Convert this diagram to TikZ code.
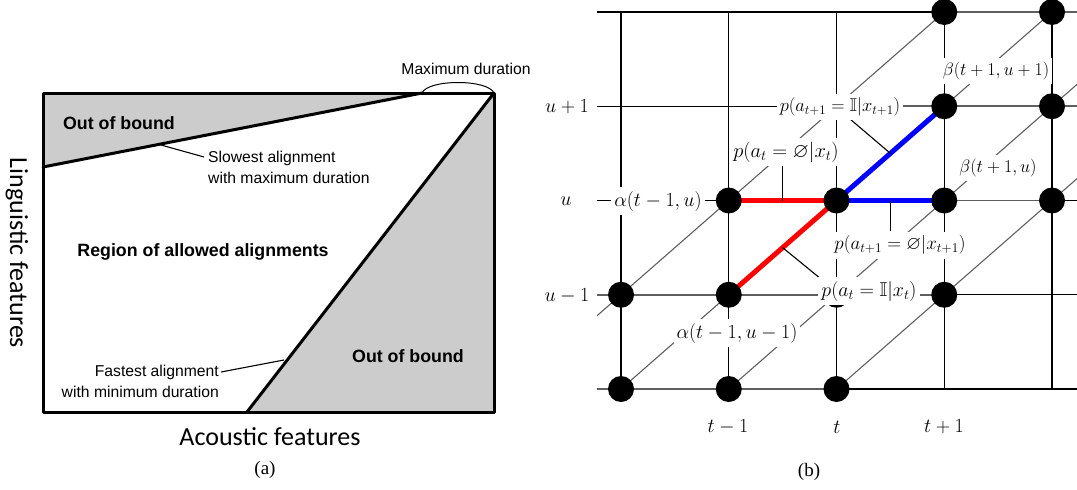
\RequirePackage{fix-cm}
\documentclass[tikz,border=0pt]{standalone}
\usepackage{amssymb}
\usepackage{fontspec}
\setmainfont{Liberation Serif}
\newfontfamily\arialf{Liberation Sans}
\newfontfamily\calf{Carlito}
\usetikzlibrary{calc}
\definecolor{oobgray}{RGB}{204,204,204}
\definecolor{edgegray}{RGB}{95,95,95}
\tikzset{
  thickline/.style={line width=3pt, line cap=round, line join=round},
  thinlead/.style={line width=1.1pt},
  small/.style={font=\arialf\fontsize{15.7}{21}\selectfont, inner sep=0pt},
  boldlab/.style={font=\arialf\bfseries\fontsize{17.8}{21}\selectfont, inner sep=0pt},
  axislab/.style={font=\calf\fontsize{26}{30}\selectfont, inner sep=0pt},
  caplab/.style={font=\fontsize{19}{22}\selectfont, inner sep=0pt},
  gridline/.style={line width=1.3pt, black},
  grayedge/.style={line width=1.6pt, edgegray},
  diagline/.style={line width=1.1pt, edgegray},
  lattnode/.style={circle, fill=black, minimum size=26pt, inner sep=0pt},
  mlab/.style={fill=white, inner xsep=3pt, inner ysep=4pt},
  redpath/.style={line width=5pt, red},
  bluepath/.style={line width=5pt, blue},
}
\begin{document}
\begin{tikzpicture}[x=1pt,y=-1pt]
\useasboundingbox (0,0) rectangle (1077,490);
% ================= Panel (a) =================
\coordinate (tl) at (43,93);
\coordinate (tr) at (494,93);
\coordinate (br) at (494,412);
\coordinate (bl) at (43,412);
\coordinate (s1) at (43,167);
\coordinate (s2) at (422,93);
\coordinate (f1) at (247,412);
\fill[oobgray] (tl) -- (s2) -- (s1) -- cycle;
\fill[oobgray] (f1) -- (tr) -- (br) -- cycle;
\draw[thickline] (tl) rectangle (br);
\draw[thickline] (s1) -- (s2);
\draw[thickline] (f1) -- (tr);
% maximum duration brace
\draw[line width=1pt] (s2) .. controls (428,79) and (488,79) .. (tr);
\node[small] (maxdur) at (466,69) {Maximum duration};
\node[boldlab] (oob1) at (119,123) {Out of bound};
\node[boldlab] (oob2) at (408,356) {Out of bound};
\node[boldlab] (region) at (203,252) {Region of allowed alignments};
\node[small, anchor=west, align=left] (slow) at (208,167) {Slowest alignment\\with maximum duration};
\node[small, anchor=east, align=right] (fast) at (219,381) {Fastest alignment\\with minimum duration};
\coordinate (slowpt) at (161,145);
\coordinate (fastpt) at (284,360);
\draw[thinlead] (slowpt) -- (204,157);
\draw[thinlead] (221,372) -- (fastpt);
\node[axislab, rotate=-90] (ling) at (17,253) {Linguistic features};
\node[axislab] (acou) at (270,437) {Acoustic features};
\node[caplab] (capa) at (265,470) {(a)};
% ================= Panel (b) =================
\foreach \i in {0,...,4}{
  \foreach \j in {0,...,4}{
    \coordinate (g\i\j) at ({621+107.75*\i},{389-94.25*\j});
  }
}
\foreach \j in {0,...,4}{
  \coordinate (L\j) at (597,{389-94.25*\j});
  \coordinate (R\j) at (1077,{389-94.25*\j});
}
% black grid
\foreach \i in {0,...,4}{ \draw[gridline] (g\i0) -- (g\i4); }
\foreach \j in {0,...,4}{ \draw[gridline] (L\j) -- (R\j); }
% gray horizontal transitions
\draw[grayedge] (L0) -- (g20);
\draw[grayedge] (L1) -- (g31);
\draw[grayedge] (g32) -- (g42);
\draw[grayedge] (g23) -- (R3);
\draw[grayedge] (g34) -- (R4);
% diagonals
\begin{scope}
\clip (597,11) rectangle (1077,390);
\foreach \k in {-1,0,1,2}{
  \draw[diagline] ({621+107.75*(\k-1)},{389+94.25}) -- ({621+107.75*(\k+5)},{389-94.25*5});
}
\end{scope}
% red and blue paths
\draw[redpath] (g12) -- (g22);
\draw[redpath] (g11) -- (g22);
\draw[bluepath] (g22) -- (g33);
\draw[bluepath] (g22) -- (g32);
% leaders
\draw[thinlead] ($(g12)!0.5!(g22)$) -- ++(0,-37);
\draw[thinlead] ($(g22)!0.5!(g33)$) -- (850,119);
\draw[thinlead] ($(g22)!0.5!(g32)$) -- ++(0,30);
\draw[thinlead] ($(g11)!0.5!(g22)$) -- (821,279);
% lattice nodes
\foreach \n in {g00,g10,g20,g01,g11,g21,g31,g12,g22,g32,g42,g33,g43,g34,g44}{
  \node[lattnode] (n\n) at (\n) {};
}
% labels
\node[mlab, font=\fontsize{20}{22}\selectfont] (alu) at (658,201) {$\alpha(t-1,u)$};
\node[mlab, font=\fontsize{20}{22}\selectfont] (alum) at (737,333) {$\alpha(t-1,u-1)$};
\node[mlab, font=\fontsize{18}{20}\selectfont] (beup) at (996,71) {$\beta(t+1,u+1)$};
\node[mlab, font=\fontsize{18}{20}\selectfont] (beu) at (998,168) {$\beta(t+1,u)$};
\node[mlab, font=\fontsize{20.5}{22}\selectfont] (pblank) at (786,152) {$p(a_t=\varnothing|x_t)$};
\node[mlab, font=\fontsize{18.5}{20}\selectfont] (pemit1) at (840,107) {$p(a_{t+1}=\mathbb{I}|x_{t+1})$};
\node[mlab, font=\fontsize{19}{20}\selectfont] (pblank1) at (900,245) {$p(a_{t+1}=\varnothing|x_{t+1})$};
\node[mlab, font=\fontsize{20}{22}\selectfont] (pemit) at (869,291) {$p(a_t=\mathbb{I}|x_t)$};
\node[font=\fontsize{20}{22}\selectfont] (tm) at (728,427) {$t-1$};
\node[font=\fontsize{20}{22}\selectfont] (tt) at (837,427) {$t$};
\node[font=\fontsize{20}{22}\selectfont] (tp) at (944,427) {$t+1$};
\node[font=\fontsize{20}{22}\selectfont] (up) at (567,107) {$u+1$};
\node[font=\fontsize{20}{22}\selectfont] (uu) at (566,201) {$u$};
\node[font=\fontsize{20}{22}\selectfont] (um) at (567,296) {$u-1$};
\node[caplab] (capb) at (809,472) {(b)};
\end{tikzpicture}
\end{document}
